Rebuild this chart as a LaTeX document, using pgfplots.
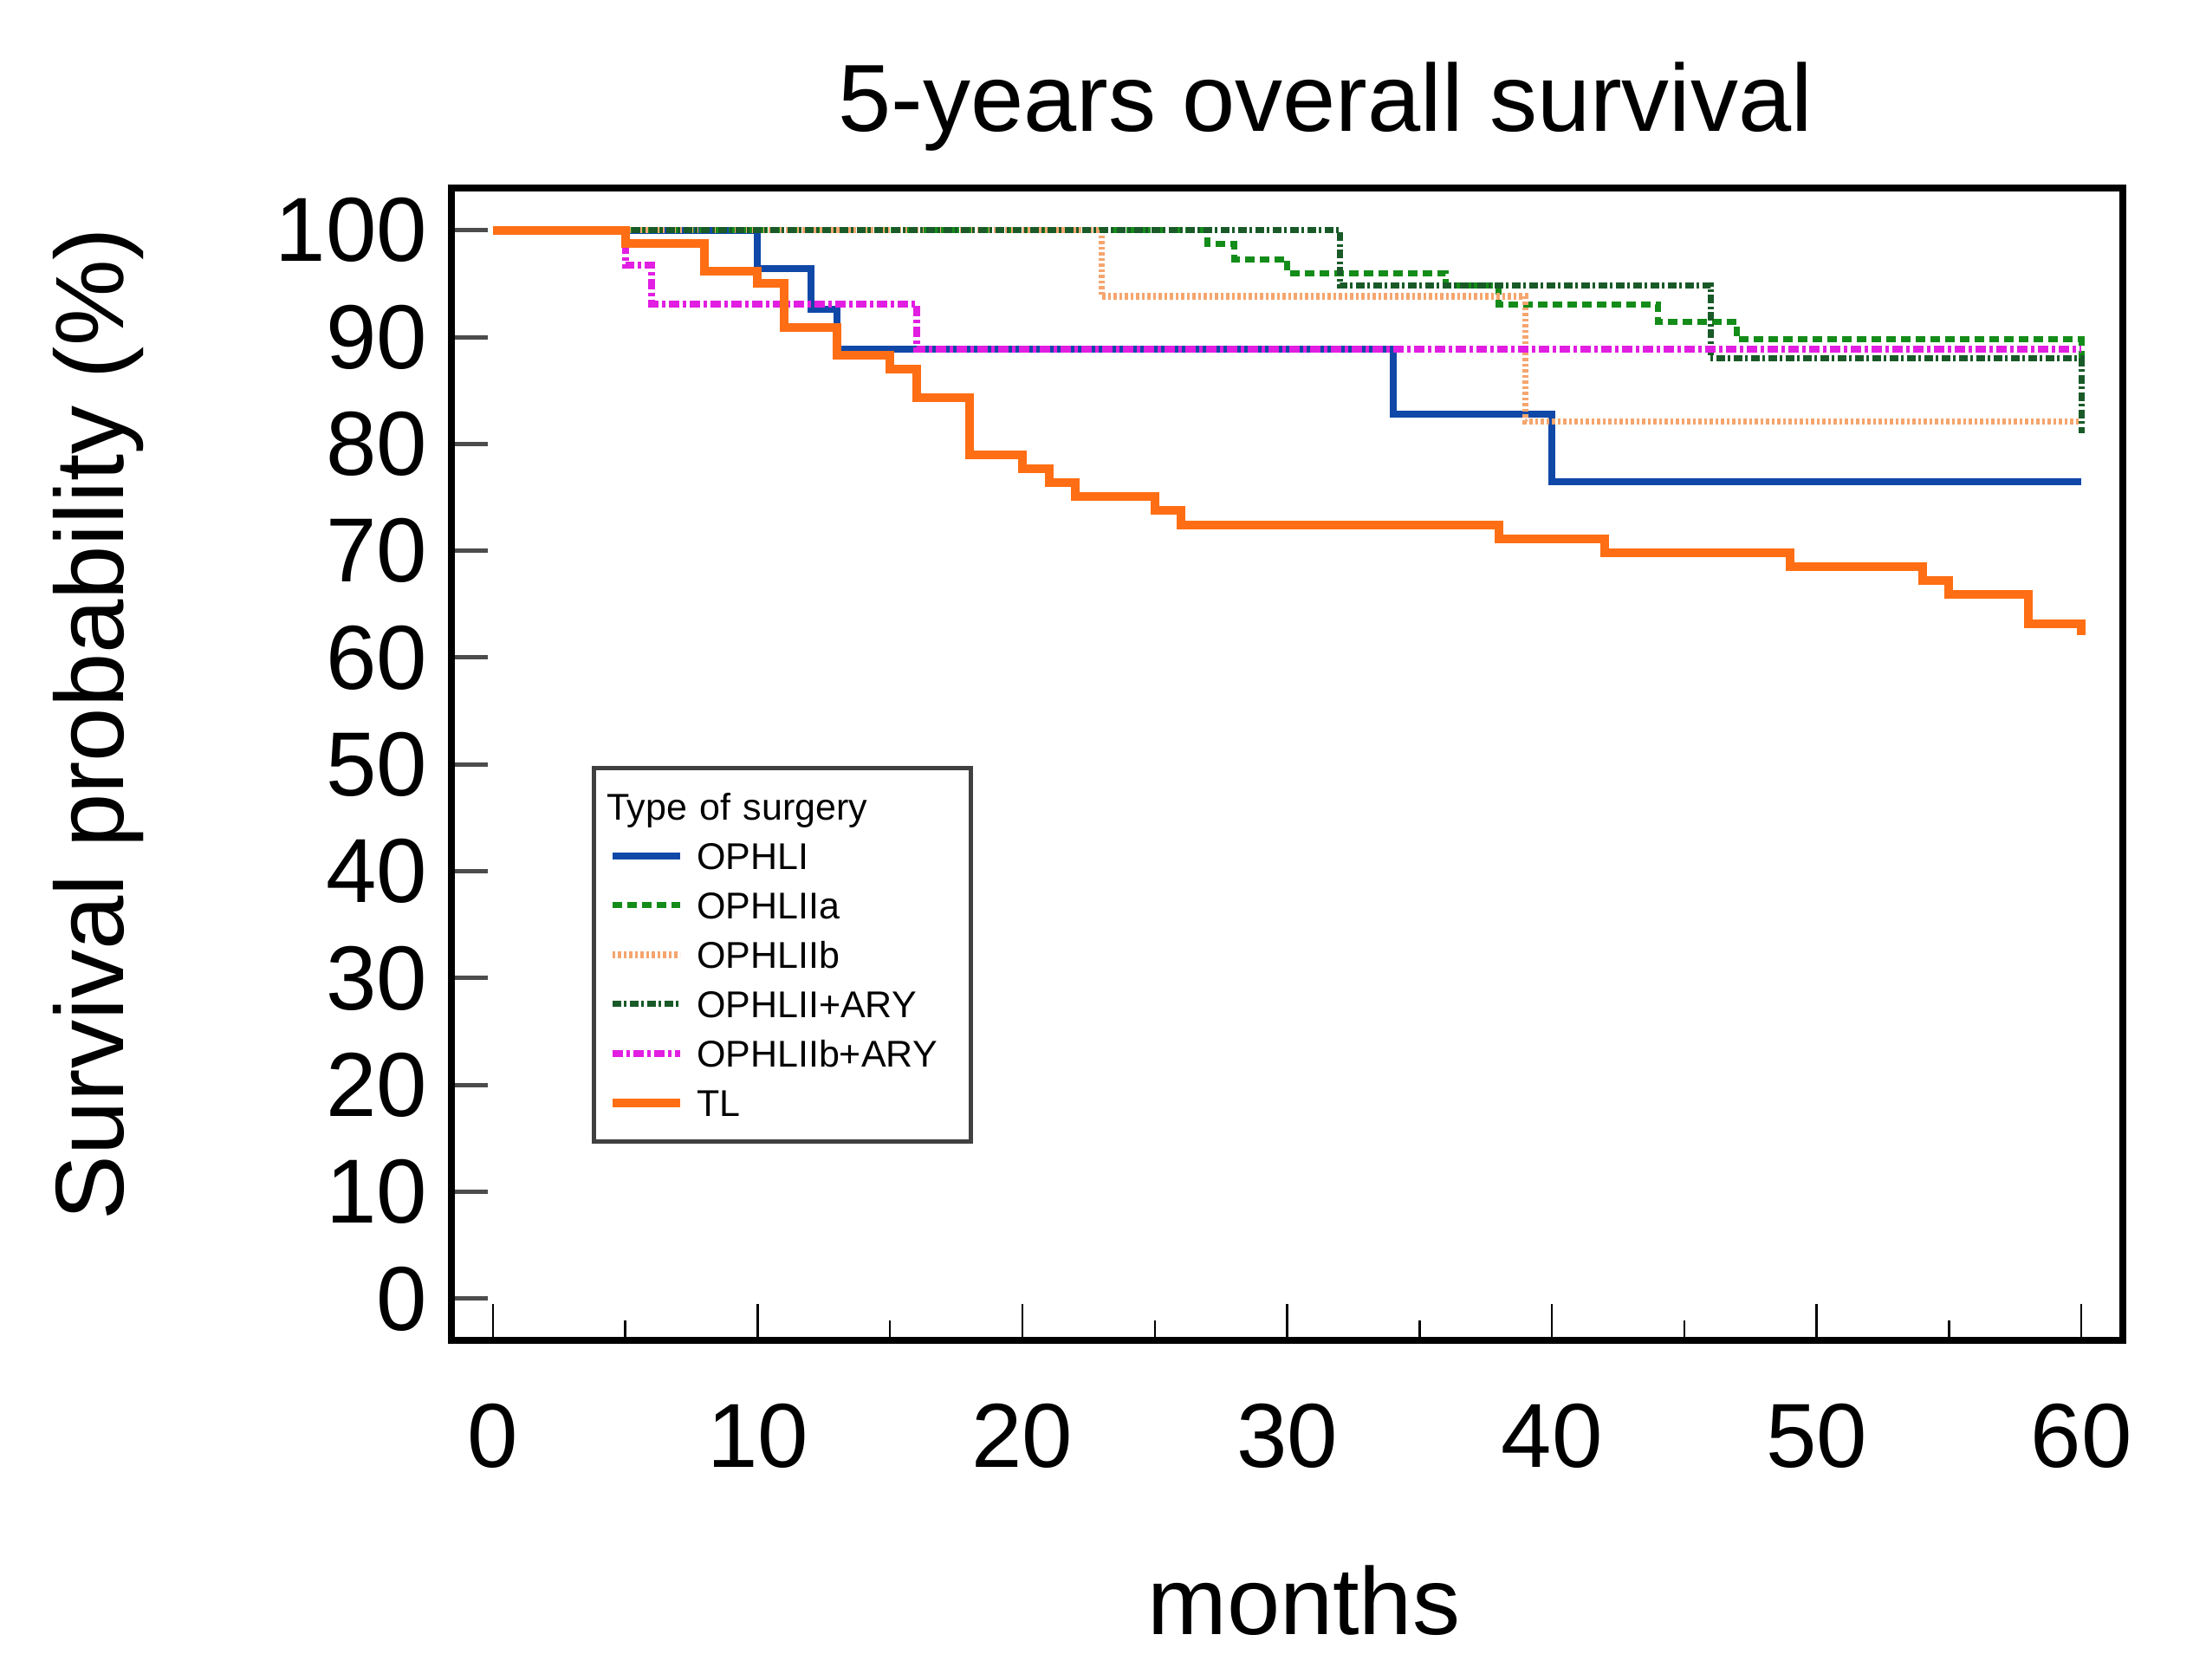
\documentclass[border=0pt]{standalone}
\usepackage{fontspec}
\setmainfont{Liberation Sans}
\usepackage{pgfplots}
\pgfplotsset{compat=1.18}

\definecolor{cOPHLI}{RGB}{16,72,168}
\definecolor{cOPHLIIa}{RGB}{20,140,25}
\definecolor{cOPHLIIb}{RGB}{245,165,110}
\definecolor{cOPHLIIARY}{RGB}{25,90,40}
\definecolor{cOPHLIIbARY}{RGB}{225,30,225}
\definecolor{cTL}{RGB}{255,110,20}

\begin{document}
\begin{tikzpicture}
\path[use as bounding box] (0,0) rectangle (253.1bp,193.9bp);
\begin{axis}[
  at={(52.1bp,39.2bp)}, anchor=south west,
  scale only axis, width=192.9bp, height=133bp,
  xmin=-1.57, xmax=61.57, ymin=-3.9, ymax=103.95,
  axis line style={line width=0.8bp},
  tick align=inside,
  xtick={0,10,...,60}, minor xtick={5,15,...,55},
  ytick={0,10,...,100},
  xtick pos=bottom, ytick pos=left,
  major tick length=4.2bp, minor tick length=2.3bp,
  x tick style={black, line width=0.25bp},
  y tick style={black!70, line width=0.5bp},
  tick label style={font=\fontsize{10.5bp}{12bp}\selectfont},
  /pgf/number format/assume math mode=true,
  xticklabel style={anchor=north, inner sep=0pt, yshift=-7.1bp},
  yticklabel style={anchor=east, inner sep=0pt, xshift=-2.6bp},
  title={5-years overall survival},
  % pgfplots adds its own 6pt shift above the title position
  title style={at={(0.523,1.004)}, anchor=base, inner sep=0pt, font=\fontsize{11bp}{13bp}\selectfont},
  xlabel={months},
  xlabel style={at={(0.510,-0.2556)}, anchor=base, inner sep=0pt, font=\fontsize{11bp}{13bp}\selectfont},
  ylabel={Survival probability (\%)},
  ylabel style={at={(-0.196,0.535)}, anchor=base, inner sep=0pt, font=\fontsize{11.2bp}{13bp}\selectfont},
  legend cell align=left,
  legend image code/.code={\draw[#1] (0bp,0bp) -- (7.8bp,0bp);},
  legend style={at={(0.084,0.4985)}, anchor=north west, draw=black!75, line width=0.5bp,
    inner xsep=1.6bp, inner ysep=1.6bp, row sep=0pt, column sep=1.45bp,
    font=\fontsize{4.3bp}{5bp}\selectfont,
    nodes={inner sep=0pt, text height=4.4bp, text depth=1.3bp, text width=30bp}},
]
\addlegendimage{empty legend}
\addlegendentry{\hspace*{-10.4bp}Type of surgery}

\addplot[const plot, cOPHLI, line width=0.8bp] coordinates {
  (0,100) (10,96.4) (12,92.6) (13,88.9) (34,82.8) (40,76.5) (60,76.5)};
\addlegendentry{OPHLI}

\addplot[const plot, cOPHLIIa, line width=0.7bp, dash pattern=on 1.1bp off 0.6bp] coordinates {
  (0,100) (27,98.7) (28,97.3) (30,96.0) (36,94.8) (38,93.05) (44,91.4) (47,89.8) (60,88.0)};
\addlegendentry{OPHLIIa}

\addplot[const plot, cOPHLIIb, line width=0.75bp, dash pattern=on 0.35bp off 0.3bp] coordinates {
  (0,100) (23,93.8) (39,82.1) (60,82.1)};
\addlegendentry{OPHLIIb}

\addplot[const plot, cOPHLIIARY, line width=0.7bp, dash pattern=on 1.0bp off 0.35bp on 0.3bp off 0.35bp] coordinates {
  (0,100) (32,94.8) (46,88.0) (60,81.0)};
\addlegendentry{OPHLII+ARY}

\addplot[const plot, cOPHLIIbARY, line width=0.8bp, dash pattern=on 1.2bp off 0.4bp on 0.4bp off 0.4bp] coordinates {
  (0,100) (5,96.7) (6,93.1) (16,88.9) (60,88.9)};
\addlegendentry{OPHLIIb+ARY}

\addplot[const plot, cTL, line width=1.0bp] coordinates {
  (0,100) (5,98.8) (8,96.2) (10,95.0) (11,90.9) (13,88.3) (15,87.0) (16,84.3)
  (18,79.0) (20,77.7) (21,76.4) (22,75.1) (25,73.8) (26,72.4) (38,71.1)
  (42,69.8) (49,68.5) (54,67.2) (55,65.9) (58,63.2) (60,62.1)};
\addlegendentry{TL}
\end{axis}
\end{tikzpicture}
\end{document}
